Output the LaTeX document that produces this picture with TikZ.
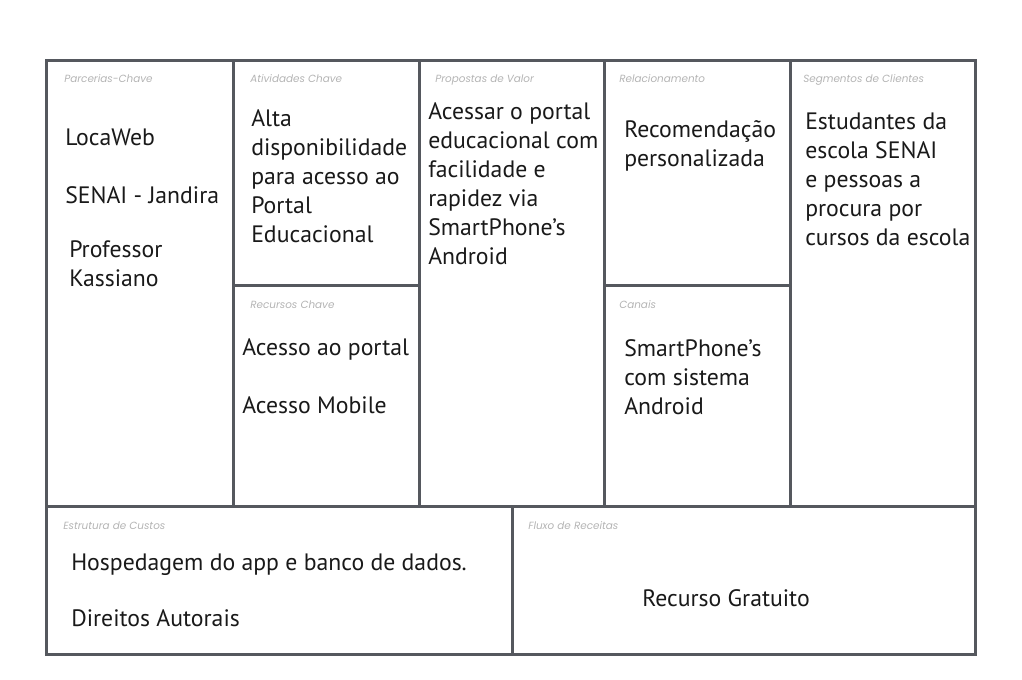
\documentclass[tikz,border=0pt]{standalone}
\usepackage{fontspec}
\setmainfont{PT Sans}
\newfontfamily\rotulofont{Poppins}
\usetikzlibrary{positioning}
\definecolor{borda}{HTML}{55585E}
\definecolor{cinzaRotulo}{HTML}{B4B4B4}
\tikzset{
  quadro/.style={draw=borda, line width=2.25pt},
  rotulo/.style={anchor=base west, inner sep=0pt, text=cinzaRotulo,
    font=\rotulofont\itshape\fontsize{7.8}{9}\selectfont},
  texto/.style={anchor=base west, inner sep=0pt, align=left, text=black!90,
    font=\fontsize{17.8}{21.75}\selectfont},
}
\begin{document}
\begin{tikzpicture}[x=0.75pt, y=-0.75pt]
  \useasboundingbox (0,0) rectangle (1022,680);
  % grade do canvas
  \draw[quadro] (46.5,60.5) rectangle (975,654.5);
  \draw[quadro] (233.5,60.5) -- (233.5,507);
  \draw[quadro] (419,60.5) -- (419,507);
  \draw[quadro] (604.5,60.5) -- (604.5,507);
  \draw[quadro] (790,60.5) -- (790,507);
  \draw[quadro] (46.5,507) -- (975,507);
  \draw[quadro] (233.5,286) -- (419,286);
  \draw[quadro] (604.5,286) -- (790,286);
  \draw[quadro] (512,507) -- (512,654.5);
  %
  \node[rotulo] (rParc)  at (64,83)  {Parcerias-Chave};
  \node[rotulo] (rAtiv)  at (250,83) {Atividades Chave};
  \node[rotulo] (rProp)  at (435,83) {Propostas de Valor};
  \node[rotulo] (rRel)   at (619,83) {Relacionamento};
  \node[rotulo] (rSeg)   at (803,83) {Segmentos de Clientes};
  \node[rotulo] (rRec)   at (250,309) {Recursos Chave};
  \node[rotulo] (rCan)   at (619,309) {Canais};
  \node[rotulo] (rCust)  at (63,530) {Estrutura de Custos};
  \node[rotulo] (rFlux)  at (528,530) {Fluxo de Receitas};
  % textos (base = ultima linha)
  \node[texto] (parc1) at (65,146)  {LocaWeb};
  \node[texto] (parc2) at (65,204)  {SENAI - Jandira};
  \node[texto] (parc3) at (69,287)  {Professor\\Kassiano};
  \node[texto] (ativ)  at (251,243) {Alta\\disponibilidade\\para acesso ao\\Portal\\Educacional};
  \node[texto] (rec1)  at (242,356) {Acesso ao portal};
  \node[texto] (rec2)  at (242,414) {Acesso Mobile};
  \node[texto] (prop)  at (428,265) {Acessar o portal\\educacional com\\facilidade e\\rapidez via\\SmartPhone’s\\Android};
  \node[texto] (rel)   at (624,167) {Recomendação\\personalizada};
  \node[texto] (can)   at (624,415) {SmartPhone’s\\com sistema\\Android};
  \node[texto] (seg)   at (805,246) {Estudantes da\\escola SENAI\\e pessoas a\\procura por\\cursos da escola};
  \node[texto] (cust1) at (71,571)  {Hospedagem do app e banco de dados.};
  \node[texto] (cust2) at (71,627)  {Direitos Autorais};
  \node[texto, anchor=base] (flux) at (726,607) {Recurso Gratuito};
\end{tikzpicture}
\end{document}
